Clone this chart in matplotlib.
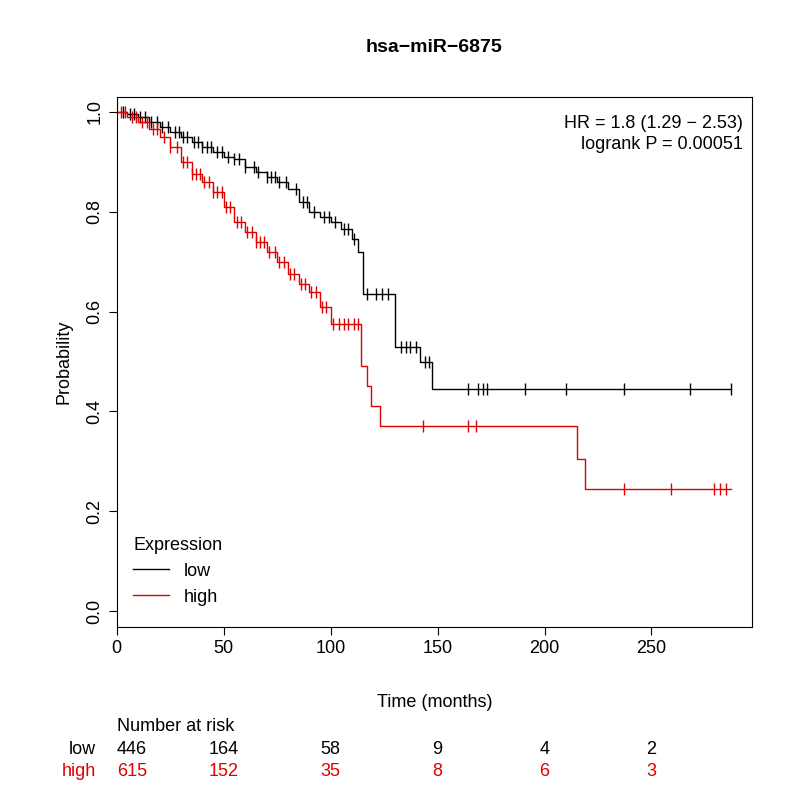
import numpy as np
import matplotlib.pyplot as plt
import matplotlib.transforms as mtrans

# Kaplan-Meier step curves (time in months, survival after the step)
low_t = [0, 5, 10, 15, 20, 25, 30, 35, 40, 45, 50, 55, 60, 65, 70, 75, 80, 85, 90, 95, 100, 105, 110, 113, 115, 130, 132, 142, 147.5, 287]
low_s = [1.0, 0.995, 0.99, 0.98, 0.97, 0.96, 0.95, 0.94, 0.93, 0.92, 0.91, 0.905, 0.89, 0.88, 0.87, 0.86, 0.845, 0.82, 0.80, 0.79, 0.78, 0.765, 0.745, 0.72, 0.635, 0.53, 0.53, 0.50, 0.445, 0.445]
high_t = [0, 5, 10, 15, 20, 25, 30, 35, 40, 45, 50, 55, 60, 65, 70, 75, 80, 85, 90, 95, 100, 114, 117, 119, 123, 131, 215, 219, 287]
high_s = [1.0, 0.99, 0.98, 0.965, 0.95, 0.93, 0.90, 0.875, 0.86, 0.84, 0.81, 0.78, 0.76, 0.74, 0.72, 0.70, 0.675, 0.655, 0.64, 0.61, 0.575, 0.49, 0.45, 0.41, 0.37, 0.37, 0.305, 0.245, 0.245]

low_cens = [3, 6, 8, 11, 13, 16, 19, 21, 24, 27, 29, 31, 33, 36, 38, 40, 42, 44, 47, 49, 52, 55, 57, 60, 64, 66, 70, 72, 74, 76, 79, 84, 87, 89, 92, 97, 99, 102, 106, 108, 111, 117, 121, 124, 127, 133, 135, 137, 140, 144, 146, 164, 169, 171, 173, 191, 210, 237, 268, 287]
high_cens = [2, 4, 7, 9, 12, 14, 17, 19, 22, 25, 28, 31, 33, 35, 37, 39, 41, 43, 45, 47, 49, 51, 53, 56, 58, 61, 63, 65, 67, 69, 71, 74, 76, 78, 81, 83, 86, 88, 91, 93, 96, 98, 101, 104, 106, 108, 111, 113, 143, 164, 168, 237, 259, 279, 282, 285]

risk_times = [0, 50, 100, 150, 200, 250]
risk_low = [446, 164, 58, 9, 4, 2]
risk_high = [615, 152, 35, 8, 6, 3]

def surv_at(t, ts, ss):
    i = np.searchsorted(ts, t, side='right') - 1
    return ss[max(i, 0)]

plt.rcParams['font.family'] = ['Liberation Sans', 'DejaVu Sans']
fs = 13
fig = plt.figure(figsize=(8, 8), dpi=100)
ax = fig.add_axes([0.146, 0.216, 0.794, 0.663])

for ts, ss, cens, col, lab in [(low_t, low_s, low_cens, 'black', 'low'),
                                (high_t, high_s, high_cens, '#e00000', 'high')]:
    ax.step(ts, ss, where='post', color=col, lw=1, label=lab)
    cy = [surv_at(c, ts, ss) for c in cens]
    ax.plot(cens, cy, '|', color=col, ms=9, mew=1)

ax.set_xlim(0, 297)
ax.set_ylim(-0.032, 1.03)
ax.set_xticks([0, 50, 100, 150, 200, 250])
ax.set_yticks([0, 0.2, 0.4, 0.6, 0.8, 1.0])
ax.set_yticklabels(['0.0', '0.2', '0.4', '0.6', '0.8', '1.0'], rotation=90, va='center')
ax.tick_params(labelsize=fs, length=6)
ax.set_ylabel('Probability', fontsize=fs, labelpad=10)
fig.text(0.543, 0.116, 'Time (months)', ha='center', fontsize=fs)
fig.text(0.543, 0.935, 'hsa\u2212miR\u22126875', ha='center', fontsize=14, weight='bold')

ax.text(0.985, 0.965, 'HR = 1.8 (1.29 \u2212 2.53)\nlogrank P = 0.00051', transform=ax.transAxes,
        ha='right', va='top', fontsize=fs, linespacing=1.3)
leg = ax.legend(loc='lower left', title='Expression', frameon=False, fontsize=fs,
                title_fontsize=fs, bbox_to_anchor=(0.0, 0.01), handlelength=2)
leg._legend_box.align = 'left'

tr = mtrans.blended_transform_factory(ax.transData, fig.transFigure)
fig.text(0.146, 0.086, 'Number at risk', fontsize=fs)
fig.text(0.12, 0.058, 'low', ha='right', fontsize=fs)
fig.text(0.12, 0.030, 'high', ha='right', fontsize=fs, color='#e00000')
for t, a, b in zip(risk_times, risk_low, risk_high):
    ha = 'left' if t == 0 else 'center'
    ax.text(t, 0.058, str(a), transform=tr, ha=ha, fontsize=fs, clip_on=False)
    ax.text(t, 0.030, str(b), transform=tr, ha=ha, fontsize=fs, color='#e00000', clip_on=False)

fig.savefig('out.png', dpi=100)
